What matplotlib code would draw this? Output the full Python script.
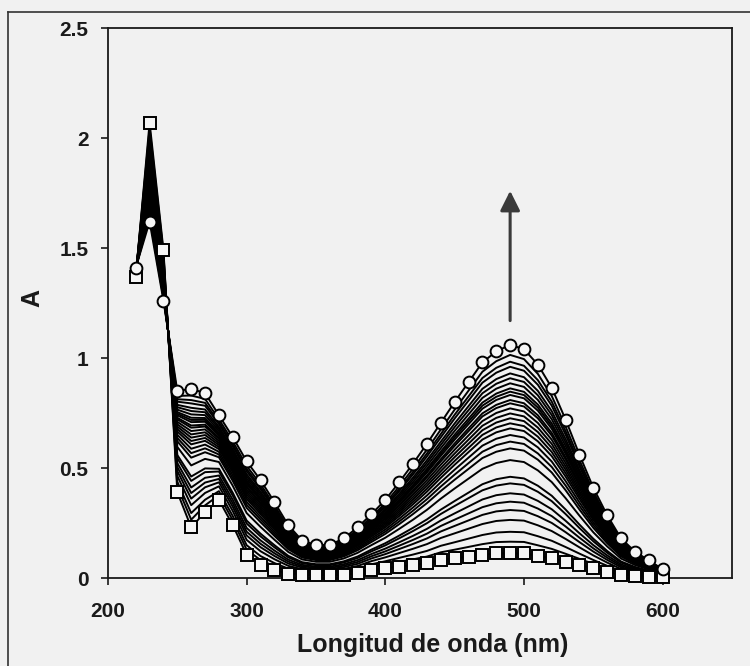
import matplotlib
matplotlib.use("Agg")
import matplotlib.pyplot as plt
from matplotlib.lines import Line2D
import numpy as np

# ---- data ----
wavelength = [220, 230, 240, 250, 260, 270, 280, 290, 300, 310, 320, 330, 340,
              350, 360, 370, 380, 390, 400, 410, 420, 430, 440, 450, 460, 470,
              480, 490, 500, 510, 520, 530, 540, 550, 560, 570, 580, 590, 600]

abs_initial = [1.37, 2.07, 1.49, 0.39, 0.23, 0.30, 0.355, 0.24, 0.105, 0.06, 0.036,
               0.02, 0.015, 0.012, 0.012, 0.015, 0.021, 0.036, 0.044, 0.052, 0.059,
               0.067, 0.082, 0.089, 0.097, 0.105, 0.112, 0.112, 0.112, 0.10, 0.089,
               0.074, 0.059, 0.044, 0.029, 0.014, 0.01, 0.006, 0.006]

abs_final = [1.41, 1.62, 1.26, 0.85, 0.86, 0.84, 0.74, 0.64, 0.53, 0.445, 0.345,
             0.24, 0.17, 0.15, 0.15, 0.18, 0.23, 0.29, 0.355, 0.435, 0.52, 0.61,
             0.705, 0.80, 0.89, 0.98, 1.03, 1.06, 1.04, 0.97, 0.865, 0.72, 0.56,
             0.41, 0.285, 0.18, 0.12, 0.08, 0.04]

# absorbance at 490 nm of each intermediate spectrum
peak_490 = [1.014, 0.983, 0.96, 0.93, 0.908, 0.885, 0.862, 0.847, 0.832, 0.809,
            0.794, 0.771, 0.748, 0.726, 0.703, 0.680, 0.65, 0.62, 0.589, 0.536,
            0.46, 0.43, 0.385, 0.347, 0.309, 0.264, 0.21, 0.165]

x_ticks = [200, 300, 400, 500, 600]
y_ticks = [0, 0.5, 1, 1.5, 2, 2.5]
y_tick_labels = ["0", "0.5", "1", "1.5", "2", "2.5"]

# ---- figure ----
W, H = 750, 666
bg = "#f1f1f1"
fig = plt.figure(figsize=(W / 100, H / 100), dpi=100, facecolor=bg)
ax = fig.add_axes([108 / W, (H - 578) / H, (732 - 108) / W, (578 - 28) / H])
ax.set_facecolor(bg)

wl = np.array(wavelength)
a0 = np.array(abs_initial)
a1 = np.array(abs_final)
i490 = wavelength.index(490)
for p in peak_490:
    f = (p - a0[i490]) / (a1[i490] - a0[i490])
    ax.plot(wl, a0 + f * (a1 - a0), color="#000000", lw=1.4, zorder=2)

ax.plot(wl, a0, color="#000000", lw=1.4, marker="s", ms=8, mfc="#f6f6f6",
        mec="#000000", mew=1.4, zorder=3, clip_on=False)
ax.plot(wl, a1, color="#000000", lw=1.4, marker="o", ms=8.5, mfc="#f6f6f6",
        mec="#000000", mew=1.4, zorder=3, clip_on=False)

ax.annotate("", xy=(490, 1.76), xytext=(490, 1.17),
            arrowprops=dict(arrowstyle="-|>,head_length=0.6,head_width=0.3",
                            mutation_scale=20, color="#3a3a3a", lw=2.2,
                            shrinkA=0, shrinkB=0), zorder=4)

ax.set_xlim(200, 650)
ax.set_ylim(0, 2.5)
ax.set_xticks(x_ticks)
ax.set_yticks(y_ticks)
ax.set_yticklabels(y_tick_labels)

font = "Liberation Sans"
for lab in ax.get_xticklabels() + ax.get_yticklabels():
    lab.set_fontfamily(font)
    lab.set_fontweight("bold")
    lab.set_fontsize(15)
    lab.set_color("#1a1a1a")
ax.tick_params(axis="x", direction="out", length=5, width=1.2, pad=12, colors="#1a1a1a")
ax.tick_params(axis="y", direction="out", length=5, width=1.2, pad=9, colors="#1a1a1a")
for s in ax.spines.values():
    s.set_linewidth(1.3)
    s.set_color("#1a1a1a")

fig.text(433 / W, 1 - 645 / H, "Longitud de onda (nm)", ha="center", va="center",
         fontfamily=font, fontweight="bold", fontsize=18, color="#1a1a1a")
fig.text(32 / W, 1 - 298 / H, "A", ha="center", va="center", rotation=90,
         fontfamily=font, fontweight="bold", fontsize=18, color="#1a1a1a")

# outer chart-area border (left and top edges visible)
fig.add_artist(Line2D([8 / W, 8 / W], [0, 1 - 12 / H], transform=fig.transFigure,
                      color="#333333", lw=1.2))
fig.add_artist(Line2D([8 / W, 1], [1 - 12 / H, 1 - 12 / H], transform=fig.transFigure,
                      color="#333333", lw=1.2))

fig.savefig("out.png", dpi=100, facecolor=bg)
